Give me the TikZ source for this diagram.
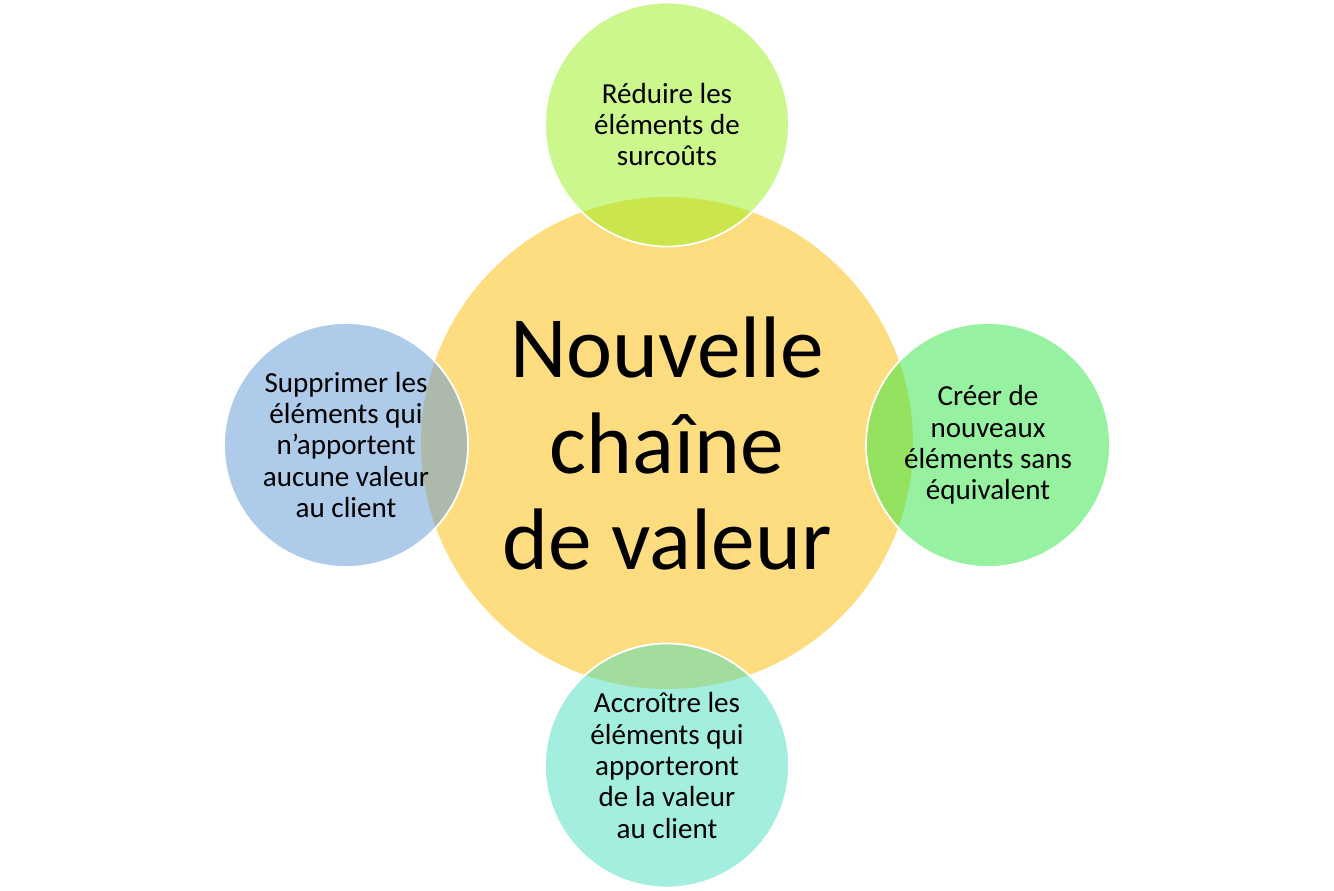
\documentclass[tikz,border=0pt]{standalone}
\usepackage{fontspec}
\setmainfont{Carlito}
\usetikzlibrary{positioning}

\definecolor{hubyellow}{RGB}{254,221,128}
\definecolor{cutgreen}{RGB}{151,239,25}
\definecolor{newgreen}{RGB}{45,229,65}
\definecolor{addteal}{RGB}{71,221,189}
\definecolor{dropblue}{RGB}{93,151,213}

\tikzset{
  hub/.style={circle, fill=hubyellow, minimum size=369pt, inner sep=0pt,
              align=center, font=\fontsize{65.5}{72}\selectfont},
  petal/.style={circle, fill opacity=0.5, text opacity=1, draw=white,
                line width=1.3pt, minimum size=183pt, inner sep=0pt,
                align=center, font=\fontsize{21.8}{23.6}\selectfont}
}

\begin{document}
\begin{tikzpicture}[x=0.75pt, y=-0.75pt]
  \useasboundingbox (0,0) rectangle (1334,891);

  \node[hub] (chain) at (667,443) {Nouvelle\\chaîne\\de valeur};

  \node[petal, fill=cutgreen] (reduce) at (667,124.5)
    {Réduire les\\éléments de\\surcoûts};
  \node[petal, fill=newgreen] (create) at (988,445)
    {Créer de\\nouveaux\\éléments sans\\équivalent};
  \node[petal, fill=addteal] (raise) at (667,765.5)
    {Accroître les\\éléments qui\\apporteront\\de la valeur\\au client};
  \node[petal, fill=dropblue] (remove) at (346,445)
    {Supprimer les\\éléments qui\\n’apportent\\aucune valeur\\au client};
\end{tikzpicture}
\end{document}
